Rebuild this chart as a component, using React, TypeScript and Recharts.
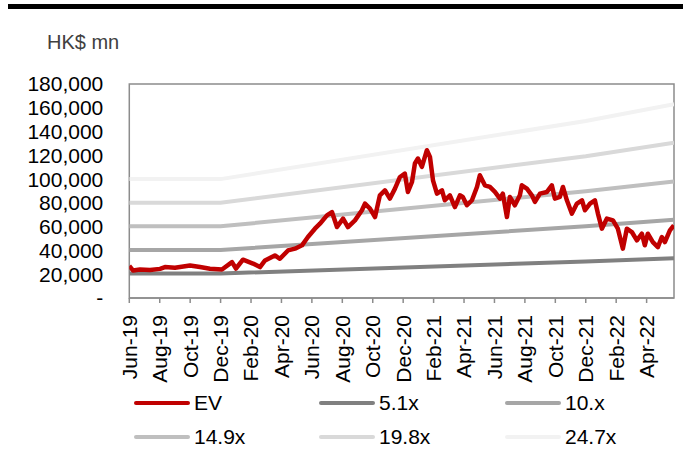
import { Line, LineChart, XAxis, YAxis, ReferenceArea } from 'recharts';

const FONT = 'Arial, "Liberation Sans", sans-serif';

// x positions are months counted from Jun-19
const xTickMonths = [0, 2, 4, 6, 8, 10, 12, 14, 16, 18, 20, 22, 24, 26, 28, 30, 32, 34];
const xTickLabels = [
  'Jun-19', 'Aug-19', 'Oct-19', 'Dec-19', 'Feb-20', 'Apr-20', 'Jun-20', 'Aug-20', 'Oct-20',
  'Dec-20', 'Feb-21', 'Apr-21', 'Jun-21', 'Aug-21', 'Oct-21', 'Dec-21', 'Feb-22', 'Apr-22',
];
const xMax = 35.8;
const yTicks = [0, 20000, 40000, 60000, 80000, 100000, 120000, 140000, 160000, 180000];

const evMonths = [
  0, 0.24, 0.7, 1.36, 2.02, 2.34, 3.0, 3.99, 4.65, 5.3, 6.09, 6.75, 7.01, 7.47, 8.13, 8.59,
  8.92, 9.57, 9.9, 10.43, 10.89, 11.35, 11.74, 12.2, 12.53, 12.99, 13.32, 13.65, 14.05, 14.37,
  14.83, 15.29, 15.49, 15.82, 16.15, 16.47, 16.8, 17.13, 17.46, 17.79, 18.11, 18.31, 18.58,
  18.77, 18.97, 19.23, 19.56, 19.76, 19.96, 20.22, 20.55, 20.74, 21.07, 21.4, 21.73, 21.92,
  22.19, 22.52, 22.85, 23.04, 23.37, 23.7, 24.03, 24.36, 24.55, 24.82, 25.01, 25.34, 25.67,
  25.8, 26.13, 26.46, 26.66, 26.99, 27.45, 27.77, 27.97, 28.3, 28.5, 28.76, 29.09, 29.42,
  29.75, 29.95, 30.28, 30.6, 30.8, 31.06, 31.39, 31.79, 32.11, 32.44, 32.7, 33.03, 33.36,
  33.69, 33.88, 34.08, 34.41, 34.74, 35.0, 35.2, 35.53, 35.79,
];
const evValues = [
  27000, 23200, 24000, 23500, 24500, 26000, 25500, 27400, 26000, 24600, 24000, 30200, 24800,
  32200, 29000, 26000, 31600, 35800, 33000, 40000, 41500, 44300, 51300, 58300, 62500, 69500,
  72300, 59700, 66800, 59700, 65300, 73800, 79400, 75200, 68100, 86400, 90600, 83600, 92000,
  101800, 104700, 89200, 97600, 113100, 117300, 110300, 124300, 118700, 99000, 87800, 90600,
  82200, 86400, 76500, 86400, 85000, 78000, 82200, 93400, 103300, 94800, 93400, 89200, 83600,
  87800, 68100, 85000, 78000, 86400, 94800, 92000, 86400, 80800, 87800, 89200, 94800, 83600,
  85000, 93400, 82200, 71000, 79400, 82200, 73800, 79400, 82200, 71000, 58300, 66800, 65300,
  58300, 41500, 58300, 55500, 48500, 54100, 44300, 54100, 47000, 42800, 51300, 47000, 56900,
  61100,
];

// PE band lines: break points at Jun-19, Dec-19, Dec-21 and the last day
const bandMonths = [0, 6, 30, 35.8];
const band51 = [20600, 20600, 30700, 33500];
const band10 = [40400, 40400, 60300, 65800];
const band149 = [60300, 60300, 89800, 98000];
const band198 = [80100, 80100, 119300, 130500];
const band247 = [100000, 100000, 148900, 163000];

const toPoints = (xs: number[], vs: number[]) => xs.map((m, i) => ({ m, v: vs[i] }));

const series = [
  { name: 'EV', color: '#c00000', data: toPoints(evMonths, evValues) },
  { name: '5.1x', color: '#808080', data: toPoints(bandMonths, band51) },
  { name: '10.x', color: '#a6a6a6', data: toPoints(bandMonths, band10) },
  { name: '14.9x', color: '#bfbfbf', data: toPoints(bandMonths, band149) },
  { name: '19.8x', color: '#d9d9d9', data: toPoints(bandMonths, band198) },
  { name: '24.7x', color: '#f2f2f2', data: toPoints(bandMonths, band247) },
];

function XTick(props: any) {
  const { x, payload } = props;
  const idx = xTickMonths.indexOf(payload.value);
  return (
    <text
      transform={`translate(${x},315) rotate(-90)`}
      textAnchor="end"
      dy="0.35em"
      fontSize={21}
      fontFamily={FONT}
      fill="#000"
    >
      {xTickLabels[idx]}
    </text>
  );
}

function formatY(v: number) {
  return v === 0 ? '-' : v.toLocaleString('en-US');
}

const legendCols = [134, 319, 505];
const legendRows = [403, 437];

export default function App() {
  const bands = series.slice(1);
  return (
    <div
      style={{
        position: 'absolute',
        left: 0,
        top: 0,
        width: 683,
        height: 460,
        background: '#fff',
        fontFamily: FONT,
        overflow: 'hidden',
      }}
    >
      <div style={{ position: 'absolute', left: 8, top: 4, width: 675, height: 5, background: '#000' }} />
      <div
        style={{
          position: 'absolute',
          left: 47,
          top: 30,
          fontSize: 20,
          lineHeight: '24px',
          color: '#404040',
        }}
      >
        HK$ mn
      </div>
      <LineChart
        width={683}
        height={460}
        margin={{ top: 84, right: 9, left: 9, bottom: 0 }}
        style={{ fontFamily: FONT }}
      >
        <XAxis
          dataKey="m"
          type="number"
          domain={[0, xMax]}
          ticks={xTickMonths}
          interval={0}
          height={162}
          tick={<XTick />}
          tickSize={5}
          axisLine={{ stroke: '#8c8c8c', strokeWidth: 1.5 }}
          tickLine={{ stroke: '#8c8c8c', strokeWidth: 1.5 }}
          allowDataOverflow
        />
        <YAxis
          type="number"
          domain={[0, 180000]}
          ticks={yTicks}
          interval={0}
          width={120.3}
          tickFormatter={formatY}
          tick={{ fill: '#000', fontSize: 21, fontFamily: FONT }}
          tickSize={0}
          tickMargin={26}
          axisLine={false}
          tickLine={false}
        />
        <ReferenceArea
          x1={0}
          x2={xMax}
          y1={0}
          y2={180000}
          fill="none"
          stroke="#8c8c8c"
          strokeWidth={1.5}
        />
        {bands.map((s) => (
          <Line
            key={s.name}
            data={s.data}
            dataKey="v"
            type="linear"
            stroke={s.color}
            strokeWidth={4}
            dot={false}
            isAnimationActive={false}
          />
        ))}
        <Line
          data={series[0].data}
          dataKey="v"
          type="linear"
          stroke={series[0].color}
          strokeWidth={4.5}
          strokeLinejoin="round"
          dot={false}
          isAnimationActive={false}
        />
      </LineChart>
      {series.map((s, i) => {
        const left = legendCols[i % 3];
        const top = legendRows[Math.floor(i / 3)];
        return (
          <div key={s.name}>
            <div
              style={{
                position: 'absolute',
                left,
                top: top - 2,
                width: 56,
                height: 4,
                borderRadius: 2,
                background: s.color,
              }}
            />
            <div
              style={{
                position: 'absolute',
                left: left + 60,
                top: top - 12,
                fontSize: 21,
                lineHeight: '24px',
                color: '#000',
              }}
            >
              {s.name}
            </div>
          </div>
        );
      })}
    </div>
  );
}
